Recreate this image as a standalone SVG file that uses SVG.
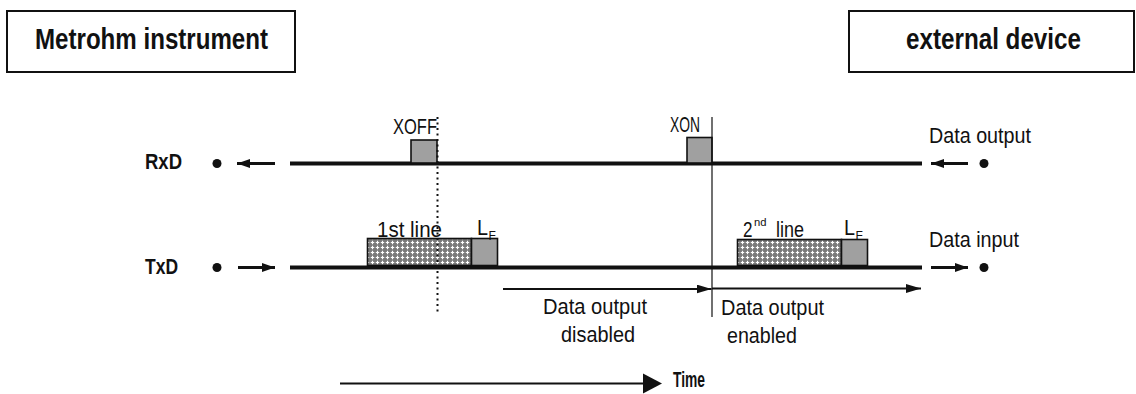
<svg xmlns="http://www.w3.org/2000/svg" width="1136" height="394" viewBox="0 0 1136 394">
<style>
.t{font-family:"Liberation Sans",Arial,sans-serif;fill:#111}
.b{font-weight:bold}
.box{fill:#fff;stroke:#111;stroke-width:2}
.sig{stroke:#111;stroke-width:4;fill:none}
.thin{stroke:#111;stroke-width:2;fill:none}
.ctl{fill:#a0a0a0;stroke:#111;stroke-width:1.6}
.hat{fill:url(#hatch);stroke:#111;stroke-width:1.6}
</style>
<defs>
<pattern id="hatch" width="5" height="5" patternUnits="userSpaceOnUse">
<rect width="5" height="5" fill="#7a7a7a"/>
<path d="M2.5 0.8V4.2M0.8 2.5H4.2" stroke="#fff" stroke-width="1.2"/>
</pattern>
<marker id="ah" markerWidth="13" markerHeight="9" refX="13" refY="4.5" orient="auto" markerUnits="userSpaceOnUse">
<path d="M0 0L13 4.5L0 9Z" fill="#111"/>
</marker>
<marker id="ahl" markerWidth="15" markerHeight="9" refX="15" refY="4.5" orient="auto" markerUnits="userSpaceOnUse">
<path d="M0 0L15 4.5L0 9Z" fill="#111"/>
</marker>
</defs>

<g id="metrohm-instrument">
<rect class="box" x="7" y="11" width="288" height="61"/>
<text class="t b" x="35" y="49" font-size="30" textLength="233" lengthAdjust="spacingAndGlyphs">Metrohm instrument</text>
</g>
<g id="external-device">
<rect class="box" x="849" y="11" width="285" height="61"/>
<text class="t b" x="906" y="49" font-size="30" textLength="175" lengthAdjust="spacingAndGlyphs">external device</text>
</g>

<g id="rxd">
<text class="t b" x="145" y="169" font-size="22" textLength="37" lengthAdjust="spacingAndGlyphs">RxD</text>
<circle cx="217" cy="163.5" r="4.5" fill="#111"/>
<line class="sig" x1="290" y1="163.5" x2="922" y2="163.5"/>
<rect class="ctl" x="411" y="140" width="26" height="23"/>
<text class="t" x="393" y="134" font-size="22" textLength="44" lengthAdjust="spacingAndGlyphs">XOFF</text>
<rect class="ctl" x="687" y="137.5" width="25" height="25.5"/>
<text class="t" x="670" y="132" font-size="22" textLength="30" lengthAdjust="spacingAndGlyphs">XON</text>
<text class="t" x="929" y="143" font-size="22" textLength="102" lengthAdjust="spacingAndGlyphs">Data output</text>
<circle cx="984" cy="163.5" r="4.5" fill="#111"/>
</g>

<g id="txd">
<text class="t b" x="145" y="274" font-size="22" textLength="33" lengthAdjust="spacingAndGlyphs">TxD</text>
<circle cx="217" cy="267.5" r="4.5" fill="#111"/>
<line class="sig" x1="290" y1="267.5" x2="922" y2="267.5"/>
<rect class="hat" x="367.5" y="238.5" width="104" height="27"/>
<rect class="ctl" x="471.5" y="238.5" width="26" height="27"/>
<text class="t" x="377" y="237" font-size="22" textLength="65" lengthAdjust="spacingAndGlyphs">1st line</text>
<text class="t" x="477" y="235" font-size="22" textLength="11" lengthAdjust="spacingAndGlyphs">L</text>
<text class="t" x="488.5" y="240" font-size="12">F</text>
<rect class="hat" x="737.5" y="239.5" width="104" height="26"/>
<rect class="ctl" x="841.5" y="239.5" width="26" height="26"/>
<text class="t" x="743" y="237" font-size="22" textLength="9.5" lengthAdjust="spacingAndGlyphs">2</text>
<text class="t" x="754" y="226" font-size="11" textLength="12.5" lengthAdjust="spacingAndGlyphs">nd</text>
<text class="t" x="776" y="237" font-size="22" textLength="28" lengthAdjust="spacingAndGlyphs">line</text>
<text class="t" x="844" y="235" font-size="22" textLength="11" lengthAdjust="spacingAndGlyphs">L</text>
<text class="t" x="855.5" y="240" font-size="12">F</text>
<text class="t" x="929" y="247" font-size="22" textLength="90" lengthAdjust="spacingAndGlyphs">Data input</text>
<circle cx="984" cy="267.5" r="4.5" fill="#111"/>
</g>

<g id="labels">
<text class="t" x="543" y="314" font-size="22" textLength="104" lengthAdjust="spacingAndGlyphs">Data output</text>
<text class="t" x="561" y="342" font-size="22" textLength="74" lengthAdjust="spacingAndGlyphs">disabled</text>
<text class="t" x="721" y="315" font-size="22" textLength="103" lengthAdjust="spacingAndGlyphs">Data output</text>
<text class="t" x="727" y="343" font-size="22" textLength="70" lengthAdjust="spacingAndGlyphs">enabled</text>
<text class="t b" x="673" y="387" font-size="22" textLength="32" lengthAdjust="spacingAndGlyphs">Time</text>
</g>

<g id="connectors">
<line x1="275" y1="163.5" x2="237" y2="163.5" stroke="#111" stroke-width="3" marker-end="url(#ah)"/>
<line x1="238" y1="267.5" x2="275" y2="267.5" stroke="#111" stroke-width="3" marker-end="url(#ah)"/>
<line x1="968" y1="163.5" x2="931" y2="163.5" stroke="#111" stroke-width="3" marker-end="url(#ah)"/>
<line x1="931" y1="267.5" x2="968" y2="267.5" stroke="#111" stroke-width="3" marker-end="url(#ah)"/>
<line x1="437.5" y1="117" x2="437.5" y2="312" stroke="#111" stroke-width="2" stroke-dasharray="2 3.5"/>
<line x1="712" y1="117" x2="712" y2="317" stroke="#111" stroke-width="1.2"/>
<line class="thin" x1="503" y1="289" x2="711.5" y2="289" marker-end="url(#ahl)"/>
<line class="thin" x1="712" y1="288.5" x2="921" y2="288.5" marker-end="url(#ahl)"/>
<line class="thin" x1="340" y1="383.5" x2="645" y2="383.5"/>
<path d="M643 373.5L662 383.5L643 393.5Z" fill="#111"/>
</g>
</svg>
